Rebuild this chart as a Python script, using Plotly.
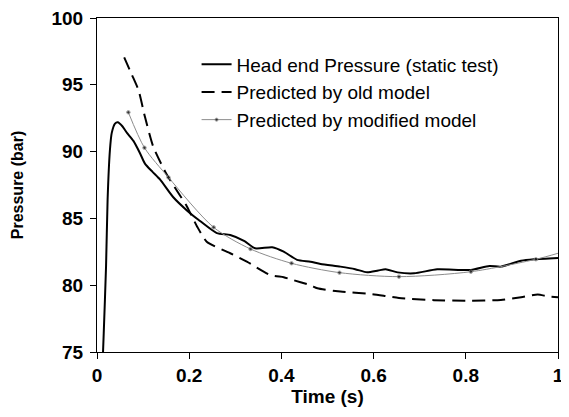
import plotly.graph_objects as go

# Head end Pressure (static test)
head_t = [0.012, 0.0146, 0.0196, 0.023, 0.028, 0.032, 0.039, 0.045, 0.055, 0.065,
          0.079, 0.093, 0.104, 0.12, 0.137, 0.165, 0.195, 0.22, 0.26, 0.289,
          0.32, 0.343, 0.38, 0.405, 0.434, 0.463, 0.485, 0.528, 0.56, 0.586,
          0.61, 0.626, 0.652, 0.688, 0.738, 0.811, 0.851, 0.876, 0.92, 0.948, 1.0]
head_p = [74.0, 76.4, 81.4, 86.4, 90.1, 91.4, 92.1, 92.2, 91.9, 91.4,
          90.8, 89.9, 89.1, 88.5, 87.9, 86.6, 85.6, 84.9, 83.9, 83.76,
          83.3, 82.76, 82.84, 82.51, 81.9, 81.76, 81.59, 81.39, 81.2, 80.96,
          81.1, 81.19, 80.96, 80.89, 81.19, 81.14, 81.44, 81.39, 81.83, 81.94, 82.04]

# Predicted by old model
old_t = [0.059, 0.075, 0.09, 0.104, 0.122, 0.151, 0.184, 0.195, 0.217, 0.238,
         0.275, 0.289, 0.325, 0.376, 0.405, 0.42, 0.463, 0.478, 0.528, 0.593,
         0.655, 0.731, 0.804, 0.876, 0.92, 0.956, 0.977, 1.0]
old_p = [97.06, 95.8, 94.6, 92.6, 90.37, 88.3, 86.5, 85.9, 84.4, 83.26,
         82.6, 82.39, 81.76, 80.76, 80.6, 80.44, 80.0, 79.77, 79.52, 79.34,
         79.05, 78.88, 78.84, 78.9, 79.1, 79.3, 79.17, 79.1]

# Predicted by modified model
mod_t = [0.068, 0.103, 0.155, 0.253, 0.333, 0.422, 0.526, 0.655, 0.811, 0.952, 1.0]
mod_p = [92.94, 90.29, 88.07, 84.33, 82.71, 81.64, 80.94, 80.64, 81.01, 81.94, 82.39]

x_ticks = [0, 0.2, 0.4, 0.6, 0.8, 1.0]
x_labels = ["0", "0.2", "0.4", "0.6", "0.8", "1"]
y_ticks = [75, 80, 85, 90, 95, 100]

FONT = "Liberation Sans, Arial, sans-serif"

fig = go.Figure()
fig.add_trace(go.Scatter(x=head_t, y=head_p, mode="lines", name="Head end Pressure (static test)",
                         line=dict(color="black", width=2, shape="spline", smoothing=0.6)))
fig.add_trace(go.Scatter(x=old_t, y=old_p, mode="lines", name="Predicted by old model",
                         line=dict(color="black", width=2, dash="13px,7px", shape="spline", smoothing=0.6)))
fig.add_trace(go.Scatter(x=mod_t, y=mod_p, mode="lines+markers", name="Predicted by modified model",
                         line=dict(color="#8c8c8c", width=1, shape="spline", smoothing=0.8),
                         marker=dict(color="black", size=[3.5] * (len(mod_t) - 1) + [0])))

# The page body has an 8px default margin, so the figure is sized/offset to compensate.
fig.update_layout(
    width=561, height=409,
    margin=dict(l=89, r=11, t=10, b=65, autoexpand=False),
    plot_bgcolor="white", paper_bgcolor="white",
    font=dict(family=FONT, color="black"),
    showlegend=True,
    legend=dict(x=0.216, y=0.918, xanchor="left", yanchor="top",
                bgcolor="rgba(0,0,0,0)", borderwidth=0,
                font=dict(size=19, family=FONT, color="black"),
                tracegroupgap=0, itemwidth=30),
)
fig.update_xaxes(range=[0, 1], tickvals=x_ticks, ticktext=x_labels, automargin=False,
                 ticklabeloverflow="allow",
                 showline=True, linecolor="black", linewidth=1, mirror=True,
                 ticks="outside", ticklen=6, tickcolor="black", showgrid=False, zeroline=False,
                 tickfont=dict(size=19, family=FONT, weight="bold"),
                 title=dict(text="Time (s)", font=dict(size=19, family=FONT, weight="bold"), standoff=4))
fig.update_yaxes(range=[75, 100], tickvals=y_ticks, automargin=False,
                 ticklabeloverflow="allow",
                 showline=True, linecolor="black", linewidth=1, mirror=True,
                 ticks="outside", ticklen=6, tickcolor="black", showgrid=False, zeroline=False,
                 ticklabelstandoff=3,
                 tickfont=dict(size=19, family=FONT, weight="bold"),
                 title=dict(text="Pressure (bar)", font=dict(size=16, family=FONT, weight="bold"), standoff=23))

fig.write_html("out.html")
